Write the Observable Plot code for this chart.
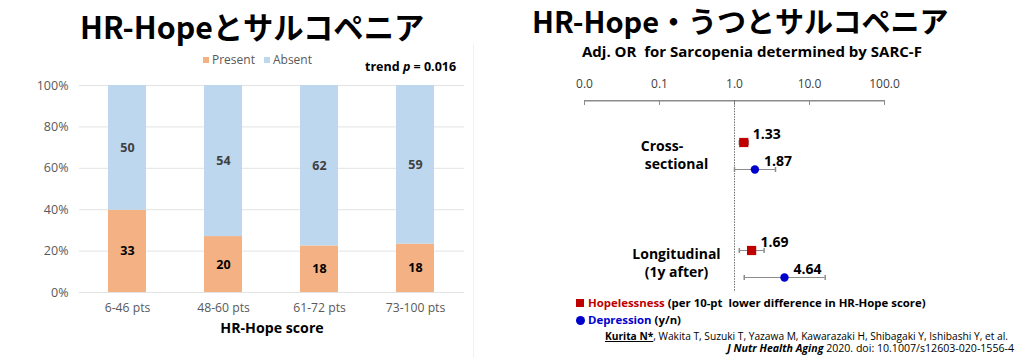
<!DOCTYPE html>
<html><head><meta charset="utf-8">
<script src="https://cdn.jsdelivr.net/npm/d3@7"></script>
<script src="https://cdn.jsdelivr.net/npm/@observablehq/plot@0.6"></script>
<style>
body{margin:0;background:#fff;}
#page{position:relative;width:1024px;height:358px;overflow:hidden;font-family:"Open Sans","Noto Sans CJK JP",sans-serif;}
.abs{position:absolute;white-space:nowrap;line-height:1;}
.plot{position:absolute;top:0;}
.ttl{font-family:"Noto Sans CJK JP",sans-serif;font-weight:700;color:#000;}
</style></head><body><div id="page"></div>
<script>
// ---------- Left chart data ----------
const groups = ["6-46 pts", "48-60 pts", "61-72 pts", "73-100 pts"];
const statusNames = ["Present", "Absent"];
const presentCounts = [33, 20, 18, 18];
const absentCounts = [50, 54, 62, 59];
const yTicks = [0, 20, 40, 60, 80, 100];
const statusColors = ["#F4B183", "#BDD7EE"];

// ---------- Right chart data ----------
const designs = ["Cross-sectional", "Longitudinal"];
const designLabels = ["Cross-\u00a0\u00a0\u00a0\u00a0\u00a0\u00a0\u00a0\u00a0", "Longitudinal\n(1y after)"];
const exposures = ["Hopelessness", "Depression"];
// order: Cross-sectional Hopelessness, Cross-sectional Depression, Longitudinal Hopelessness, Longitudinal Depression
const orValues = [1.33, 1.87, 1.69, 4.64];
const ciLow = [1.16, 1.00, 1.16, 1.35];
const ciHigh = [1.53, 3.52, 2.48, 16.2];
const orTicks = [0.01, 0.1, 1, 10, 100];
const exposureColors = ["#C00000", "#0000CC"];

const page = document.getElementById("page");
function addDiv(html, css) {
  const d = document.createElement("div");
  d.className = "abs";
  d.innerHTML = html;
  Object.assign(d.style, css);
  page.appendChild(d);
  return d;
}

// ---------- Left chart ----------
const table = [];
groups.forEach((g, i) => {
  table.push({group: g, status: statusNames[0], n: presentCounts[i]});
  table.push({group: g, status: statusNames[1], n: absentCounts[i]});
});

const left = Plot.plot({
  width: 512, height: 358,
  marginLeft: 79, marginRight: 48, marginTop: 85, marginBottom: 66,
  style: {fontFamily: "'Open Sans', sans-serif", background: "transparent"},
  x: {domain: groups, paddingInner: 0.6, paddingOuter: 0.3, label: null},
  y: {domain: [0, 1], label: null},
  color: {domain: statusNames, range: statusColors},
  marks: [
    Plot.gridY(yTicks.map(d => d / 100), {stroke: "#E3E3E3", strokeOpacity: 1}),
    Plot.axisY({ticks: yTicks.map(d => d / 100), tickFormat: d => Math.round(d * 100) + "%", tickSize: 0, tickPadding: 11, fontSize: 12.5, color: "#595959", label: null}),
    Plot.axisX({tickSize: 0, tickPadding: 11, fontSize: 12.2, color: "#595959", label: null}),
    Plot.barY(table, Plot.stackY({x: "group", y: "n", fill: "status", offset: "normalize", order: statusNames})),
    Plot.text(table, Plot.stackY({x: "group", y: "n", text: "n", offset: "normalize", order: statusNames,
      fill: d => d.status === "Absent" ? "#404040" : "#000", fontSize: 12.5, fontWeight: "bold"})),
    Plot.text(["HR-Hope score"], {frameAnchor: "bottom", dy: 40, fontSize: 14.2, fontWeight: "bold", fill: "#000"})
  ]
});
left.classList.add("plot");
left.style.left = "0px";
page.appendChild(left);

// faint chart-area border
addDiv("", {left: "473px", top: "44px", width: "0px", height: "320px", borderLeft: "1px solid #F0F0F0"});

// left title, legend, trend
addDiv("HR-Hopeとサルコペニア", {left: "80px", top: "11px", fontSize: "30.3px"}).classList.add("ttl");
addDiv(
  statusNames.map((s, i) => `<span style="display:inline-block;width:6px;height:6px;background:${statusColors[i]};margin-right:3px;vertical-align:1px"></span>${s}`).join('<span style="display:inline-block;width:9px"></span>'),
  {left: "203px", top: "54px", fontSize: "12px", color: "#595959"});
addDiv('trend <i>p</i> = 0.016', {left: "365px", top: "61px", fontSize: "12.5px", fontWeight: "700", color: "#000"});

// ---------- Right chart ----------
const rows = [];
designs.forEach((ds, j) => exposures.forEach((ex, k) => {
  const i = j * 2 + k;
  rows.push({design: ds, exposure: ex, key: ds + "|" + ex, or: orValues[i], lo: ciLow[i], hi: ciHigh[i]});
}));
const rowDomain = [rows[0].key, rows[1].key, "gap-1", "gap-2", rows[2].key, rows[3].key];
const capSymbol = {draw(ctx, size) { const h = Math.sqrt(size / Math.PI); ctx.moveTo(0, -h); ctx.lineTo(0, h); }};
const designRows = designs.map((ds, j) => ({key: ds + "|" + exposures[0], label: j === 0 ? designLabels[0] + "\nsectional" : designLabels[j]}));
const frameH = 358 - 100 - 66;

const right = Plot.plot({
  width: 512, height: 358,
  marginLeft: 72, marginRight: 140, marginTop: 100, marginBottom: 66,
  style: {fontFamily: "'Open Sans', sans-serif", background: "transparent"},
  x: {type: "log", domain: [orTicks[0], orTicks[orTicks.length - 1]], label: null},
  y: {type: "point", domain: rowDomain, padding: 0, insetTop: 41, insetBottom: 14, axis: null},
  marks: [
    Plot.axisX({anchor: "top", ticks: orTicks, tickFormat: d3.format(".1f"), tickSize: 0, tickPadding: 13, fontSize: 12, color: "#404040", label: null}),
    Plot.rect([orTicks], {x1: d => d[0], x2: d => d[d.length - 1], insetBottom: frameH - 1.5, fill: "#8C8C8C"}),
    Plot.tickX(orTicks, {x: d => d, insetBottom: frameH - 5, stroke: "#8C8C8C"}),
    Plot.ruleX([1], {stroke: "#6E6E6E", strokeDasharray: "1.5 1.2"}),
    Plot.ruleY(rows, {y: "key", x1: "lo", x2: "hi", stroke: "#8C8C8C"}),
    Plot.dot(rows, {x: "lo", y: "key", symbol: capSymbol, r: 2.5, stroke: "#8C8C8C", fill: "none"}),
    Plot.dot(rows, {x: "hi", y: "key", symbol: capSymbol, r: 2.5, stroke: "#8C8C8C", fill: "none"}),
    Plot.dot(rows.filter(d => d.exposure === exposures[0]), {x: "or", y: "key", symbol: "square", r: 5.2, fill: exposureColors[0]}),
    Plot.dot(rows.filter(d => d.exposure === exposures[1]), {x: "or", y: "key", symbol: "circle", r: 4.2, fill: exposureColors[1]}),
    Plot.text(rows, {x: "or", y: "key", text: d => d.or.toFixed(2), dx: 9, dy: -8, textAnchor: "start", fontSize: 14, fontWeight: "bold", fill: "#000"}),
    Plot.text(designRows, {y: "key", frameAnchor: "left", dx: 92, dy: 12, text: "label", textAnchor: "middle", lineHeight: 1.3, fontSize: 14, fontWeight: "bold", fill: "#000"})
  ]
});
right.classList.add("plot");
right.style.left = "512px";
page.appendChild(right);

// right title, subtitle, legend, citation
addDiv("HR-Hope・うつとサルコペニア", {left: "532px", top: "6px", fontSize: "29px"}).classList.add("ttl");
addDiv("Adj. OR&nbsp; for Sarcopenia determined by SARC-F", {left: "582px", top: "44px", fontSize: "15px", fontWeight: "700", color: "#000"});
addDiv(`<span style="display:inline-block;width:8px;height:8px;background:${exposureColors[0]};margin-right:4px;vertical-align:0px"></span><span style="color:${exposureColors[0]}">${exposures[0]}</span> (per 10-pt&nbsp; lower difference in HR-Hope score)`,
  {left: "576px", top: "297px", fontSize: "11.4px", fontWeight: "700", color: "#000"});
addDiv(`<span style="display:inline-block;width:9px;height:9px;border-radius:50%;background:${exposureColors[1]};margin-right:3px;vertical-align:-1px"></span><span style="color:${exposureColors[1]}">${exposures[1]}</span> (y/n)`,
  {left: "576px", top: "314px", fontSize: "11.4px", fontWeight: "700", color: "#000"});
addDiv('<b style="text-decoration:underline">Kurita N*</b>, Wakita T, Suzuki T, Yazawa M, Kawarazaki H, Shibagaki Y, Ishibashi Y, et al.',
  {left: "605px", top: "331px", fontSize: "10.2px", color: "#000"});
addDiv('<b><i>J Nutr Health Aging</i></b> 2020. doi: 10.1007/s12603-020-1556-4',
  {right: "10px", top: "343px", fontSize: "10.6px", color: "#000"});
</script>
</body></html>
